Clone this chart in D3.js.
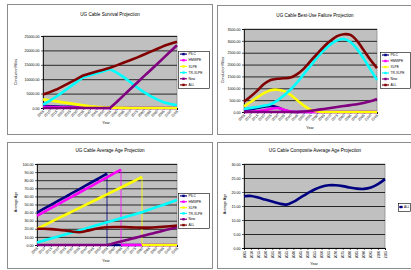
<!DOCTYPE html>
<html><head><meta charset="utf-8">
<script src="https://cdn.jsdelivr.net/npm/d3@7"></script>
<style>
html,body{margin:0;padding:0;background:#fff;}
svg{display:block;font-family:"Liberation Sans",Arial,sans-serif;}
</style></head>
<body><svg id="c" width="411" height="270"></svg>
<script>
// ---------- data ----------
const years = ["2005","2010","2015","2020","2025","2030","2035","2040","2045","2050","2055",
               "2060","2065","2070","2075","2080","2085","2090","2095","2100","2105"];
const seriesNames = ["PILC","HMWPE","XLPE","TR-XLPE","New","ALL"];
const seriesColors = ["#000080","#FF00FF","#FFFF00","#00FFFF","#800080","#800000"];

// Survival projection (conductor miles)
const survPILC = [700,620,540,460,390,320,250,190,130,70,20,0,0,0,0,0,0,0,0,0,0];
const survHMW  = [350,310,270,230,190,150,115,85,60,40,20,10,5,0,0,0,0,0,0,0,0];
const survXLPE = [3000,2650,2300,1950,1600,1250,900,600,380,220,120,70,40,20,10,5,0,0,0,0,0];
const survTR   = [1200,2500,4000,5600,7300,9000,10700,11400,12100,12800,13500,12300,10800,9000,7200,5600,4200,3000,2000,1400,1000];
const survNew  = [0,0,0,0,0,0,0,0,0,0,0,2100,4300,6500,8700,10900,13000,15200,17400,19600,21800];
const survAll  = [4700,5500,6400,7600,8800,10000,11300,12000,12700,13300,14000,14800,15700,16600,17500,18500,19500,20500,21500,22300,23000];
const survTicks = [0,5000,10000,15000,20000,25000];

// Failure projection (conductor miles)
const failPILC = [60,110,170,220,250,200,80,10,0,0,0,0,0,0,0,0,0,0,0,0,0];
const failHMW  = [0,10,30,70,130,170,90,20,0,0,0,0,0,0,0,0,0,0,0,0,0];
const failXLPE = [240,420,620,800,920,940,880,720,500,270,100,20,0,0,0,0,0,0,0,0,0];
const failTR   = [130,170,210,260,330,480,700,950,1250,1600,1950,2300,2600,2850,3020,3080,2950,2650,2250,1800,1350];
const failNew  = [0,0,0,0,0,0,0,0,0,20,50,90,130,170,210,250,290,330,380,450,550];
const failAll  = [430,650,900,1180,1350,1400,1420,1450,1600,1830,2150,2450,2750,3000,3200,3280,3250,3000,2600,2200,1850];
const failTicks = [0,500,1000,1500,2000,2500,3000,3500];

// Average age projection (years)
const agePILC = [40,44.8,49.6,54.4,59.2,64,68.8,73.6,78.4,83.2,88,0,0,0,0,0,0,0,0,0,0];
const ageHMW  = [36,40.8,45.5,50.3,55,59.8,64.5,69.3,74,78.8,83.5,88.3,93,0,0,0,0,0,0,0,0];
const ageXLPE = [20,24.3,28.5,32.8,37,41.3,45.5,49.8,54,58.3,62.5,66.8,71,75.3,79.5,84,0,0,0,0,0];
const ageTR   = [3,5.5,8,10.5,13,15.5,18,20.5,23,25.5,28,30.5,33,35.5,38,40.5,43.5,46.5,49.5,52.5,55.5];
const ageNew  = [0,0,0,0,0,0,0,0,0,0,0,2.2,4.4,6.6,8.8,11,13.2,15.4,17.6,19.8,22];
const ageAll  = [20,20,19.6,18.8,17.8,16.6,15.8,17.2,19.2,21,22,22.2,22.2,21.9,21.6,21.4,21.5,21.9,22.5,23.2,24];
const ageTicks = [0,10,20,30,40,50,60,70,80,90,100];

// Composite average age
const compNames = ["ALL"];
const compColors = ["#000080"];
const compAll = [18.5,18.6,18.0,17.3,16.6,15.9,15.5,16.5,18.0,19.5,20.9,21.9,22.4,22.4,22.1,21.6,21.2,21.1,21.6,22.8,24.6];
const compTicks = [0,5,10,15,20,25,30];

// ---------- drawing ----------
const svg = d3.select("#c");
svg.append("rect").attr("width",411).attr("height",270).attr("fill","#fff");
const fmt = d3.format(".2f");

function panel(cfg){
  const g = svg.append("g");
  g.append("rect").attr("x",cfg.box[0]+0.5).attr("y",cfg.box[1]+0.5)
    .attr("width",cfg.box[2]-cfg.box[0]).attr("height",cfg.box[3]-cfg.box[1])
    .attr("fill","#fff").attr("stroke","#8c8c8c").attr("stroke-width",1);
  const [px0,py0,px1,py1] = cfg.plot;
  const x = d3.scalePoint().domain(years).range([px0,px1]);
  const y = d3.scaleLinear().domain([0,cfg.ticks[cfg.ticks.length-1]]).range([py1,py0]);
  g.append("rect").attr("x",px0).attr("y",py0).attr("width",px1-px0).attr("height",py1-py0)
    .attr("fill","#C0C0C0").attr("stroke","#808080").attr("stroke-width",0.7);
  const grid = g.append("g").attr("transform",`translate(${px0},0)`)
    .call(d3.axisLeft(y).tickValues(cfg.ticks).tickSize(-(px1-px0)).tickFormat(""));
  grid.select(".domain").remove();
  grid.selectAll("line").attr("stroke","#000").attr("stroke-width",0.8);
  const ya = g.append("g").attr("transform",`translate(${px0},0)`)
    .call(d3.axisLeft(y).tickValues(cfg.ticks).tickSize(2).tickPadding(1.5).tickFormat(fmt));
  ya.select(".domain").attr("stroke","#000").attr("stroke-width",0.8);
  ya.selectAll("line").attr("stroke","#000").attr("stroke-width",0.6);
  ya.selectAll("text").attr("font-size",cfg.fs).attr("fill","#000")
    .attr("font-family","Liberation Sans, Arial, sans-serif");
  const xa = g.append("g").attr("transform",`translate(0,${py1})`)
    .call(d3.axisBottom(x).tickSize(2).tickPadding(1));
  xa.select(".domain").attr("stroke","#000").attr("stroke-width",0.8);
  xa.selectAll("line").attr("stroke","#000").attr("stroke-width",0.6);
  const xt = xa.selectAll("text").attr("font-size",cfg.xfs).attr("fill","#000")
    .attr("font-family","Liberation Sans, Arial, sans-serif");
  if(cfg.rot===90){
    xt.attr("transform","rotate(-90)").attr("text-anchor","end")
      .attr("x",-3).attr("y",0).attr("dy","0.32em");
  } else {
    xt.attr("transform","rotate(-45)").attr("text-anchor","end")
      .attr("x",-2).attr("y",2).attr("dy","0.32em");
  }
  g.append("text").attr("x",cfg.title[1]).attr("y",cfg.title[2]).attr("text-anchor","middle")
    .attr("font-size",cfg.tfs).attr("fill","#000").text(cfg.title[0]);
  g.append("text").attr("transform",`translate(${cfg.ylab[1]},${cfg.ylab[2]}) rotate(-90)`)
    .attr("text-anchor","middle").attr("font-size",cfg.fs).attr("fill","#000").text(cfg.ylab[0]);
  g.append("text").attr("x",cfg.xlab[0]).attr("y",cfg.xlab[1]).attr("text-anchor","middle")
    .attr("font-size",cfg.fs).attr("fill","#000").text("Year");
  const plotG = g.append("g");
  cfg.series.forEach((vals,i)=>{
    const col = cfg.colors[i];
    const pts = vals.map((v,j)=>[x(years[j]),y(v)]);
    if(cfg.drops){
      let k=-1;
      for(let j=0;j<vals.length-1;j++){ if(vals[j]>30 && vals[j+1]===0){k=j;break;} }
      if(k>=0){
        const a = pts.slice(0,k+1);
        const b = [[pts[k][0],y(0)]].concat(pts.slice(k+1));
        plotG.append("path").attr("d",d3.line()(b)).attr("fill","none").attr("stroke",col).attr("stroke-width",cfg.lw);
        plotG.append("path").attr("d",d3.line()(a)).attr("fill","none").attr("stroke",col).attr("stroke-width",cfg.lw)
          .attr("stroke-linejoin","round");
        plotG.append("line").attr("x1",pts[k][0]).attr("x2",pts[k][0]).attr("y1",pts[k][1]).attr("y2",y(0))
          .attr("stroke",col).attr("stroke-width",0.8);
        return;
      }
    }
    plotG.append("path").attr("d",d3.line().curve(cfg.curve)(pts)).attr("fill","none")
      .attr("stroke",col).attr("stroke-width",cfg.lw).attr("stroke-linejoin","round");
  });
  const [lx0,ly0,lx1,ly1] = cfg.legend;
  const lo = cfg.lo || {l1:2,l2:9,t:10.5};
  const lg = g.append("g");
  lg.append("rect").attr("x",lx0+0.5).attr("y",ly0+0.5).attr("width",lx1-lx0).attr("height",ly1-ly0)
    .attr("fill","#fff").attr("stroke","#000").attr("stroke-width",0.6);
  const step = (ly1-ly0)/cfg.names.length;
  cfg.names.forEach((n,i)=>{
    const cy = ly0 + step*(i+0.5);
    lg.append("line").attr("x1",lx0+lo.l1).attr("x2",lx0+lo.l2).attr("y1",cy).attr("y2",cy)
      .attr("stroke",cfg.colors[i]).attr("stroke-width",1.2);
    lg.append("rect").attr("x",lx0+(lo.l1+lo.l2)/2-1.2).attr("y",cy-1.2).attr("width",2.4).attr("height",2.4)
      .attr("fill",cfg.colors[i]);
    lg.append("text").attr("x",lx0+lo.t).attr("y",cy).attr("dy","0.35em")
      .attr("font-size",cfg.lfs).attr("fill","#000").text(n);
  });
}

panel({
  box:[7,4,212,134], plot:[43,36,177,108], ticks:survTicks,
  series:[survPILC,survHMW,survXLPE,survTR,survNew,survAll], colors:seriesColors, names:seriesNames,
  curve:d3.curveLinear, lw:2.6, fs:3.6, xfs:3.6, tfs:4.6, rot:45,
  title:["UG Cable Survival Projection",110,16], ylab:["Conductor Miles",17,72], xlab:[106,124],
  legend:[178,51,209,88], lfs:3.3
});
panel({
  box:[217,5,413,134], plot:[244,29,377,112], ticks:failTicks,
  series:[failPILC,failHMW,failXLPE,failTR,failNew,failAll], colors:seriesColors, names:seriesNames,
  curve:d3.curveCatmullRom, lw:2.6, fs:3.6, xfs:3.6, tfs:4.6, rot:45,
  title:["UG Cable Best-Use Failure Projection",315,17], ylab:["Conductor Miles",224,70], xlab:[310,129],
  legend:[380,52,410,88], lfs:3.3
});
panel({
  box:[7,142,212,268], plot:[37,164,177,245], ticks:ageTicks,
  series:[agePILC,ageHMW,ageXLPE,ageTR,ageNew,ageAll], colors:seriesColors, names:seriesNames,
  curve:d3.curveMonotoneX, lw:2.6, fs:3.6, xfs:3.6, tfs:4.6, rot:45, drops:true,
  title:["UG Cable Average Age Projection",110,152], ylab:["Average Age",17,202], xlab:[106,262],
  legend:[178,193,209,228], lfs:3.3
});
panel({
  box:[217,142,413,268], plot:[244,164,385,248], ticks:compTicks,
  series:[compAll], colors:compColors, names:compNames,
  curve:d3.curveCatmullRom, lw:2.6, fs:3.6, xfs:3.3, tfs:4.6, rot:90,
  title:["UG Cable Composite Average Age Projection",315,152], ylab:["Average Age",226,204], xlab:[314,265],
  legend:[398,203,410,211], lfs:3, lo:{l1:1,l2:5,t:6}
});
</script>
</body></html>
